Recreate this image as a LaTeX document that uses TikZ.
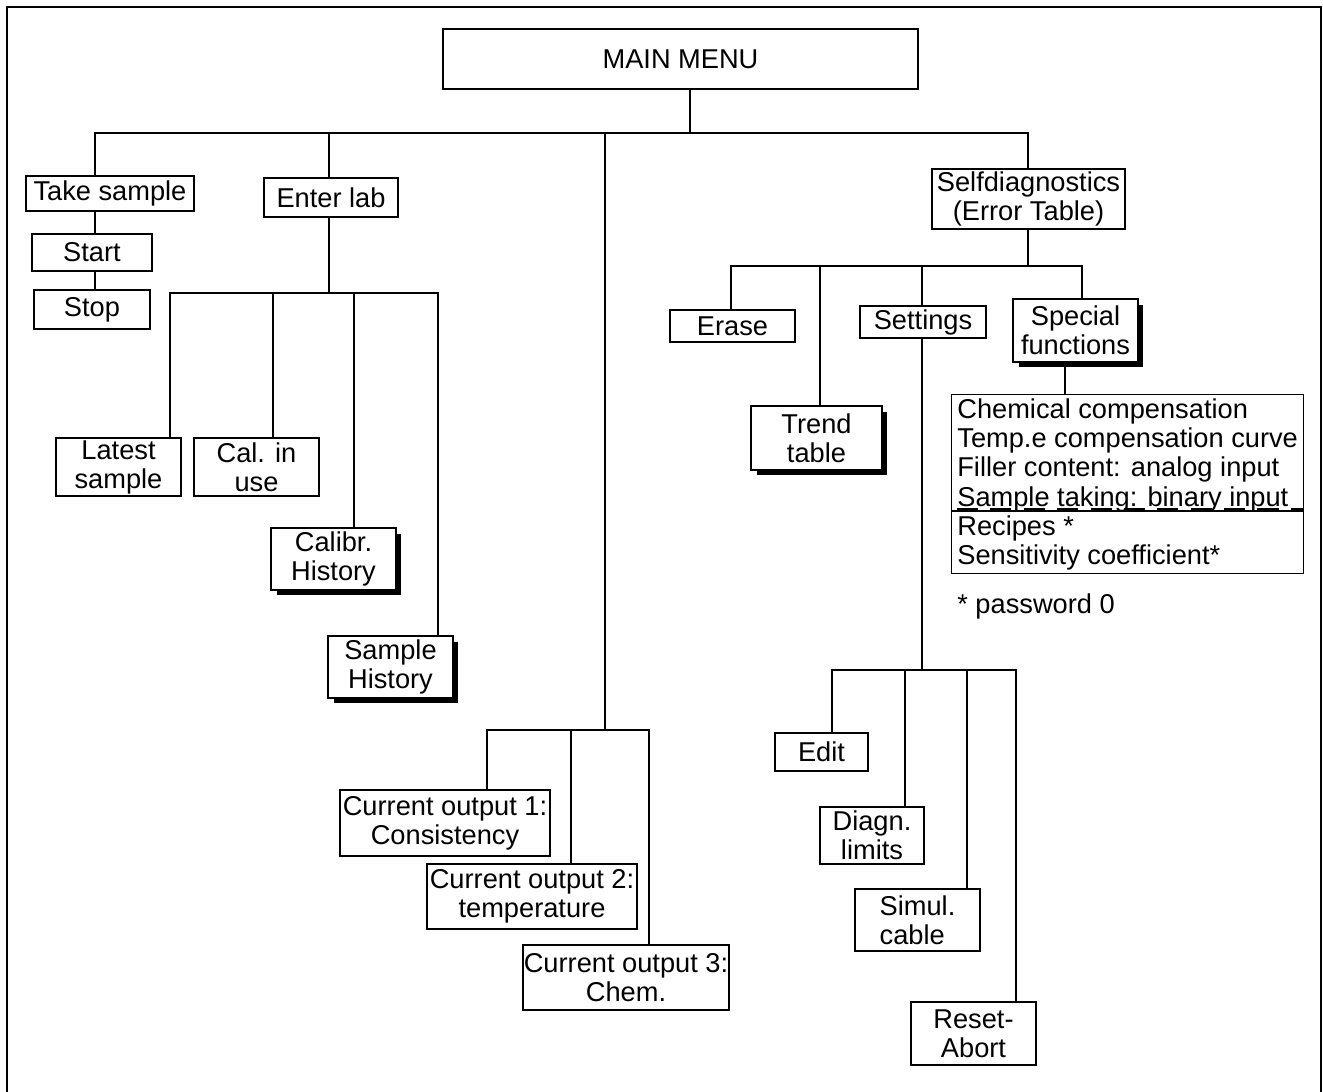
\documentclass[tikz,border=0pt]{standalone}
\usepackage{fontspec}
\setmainfont{Liberation Sans}
\usetikzlibrary{shadows}

\tikzset{
  box/.style={draw, line width=0.8pt, fill=white, inner sep=0pt, align=center,
    font=\fontsize{15.5}{16.5}\selectfont},
  shadowbox/.style={box, drop shadow={shadow xshift=0.11cm, shadow yshift=-0.11cm,
    fill=black, opacity=1}},
  trunk/.style={line width=1.3pt},
  branch/.style={line width=0.7pt}
}

\begin{document}
\begin{tikzpicture}[x=0.02cm, y=-0.02cm]
  \useasboundingbox (0,0) rectangle (1323,1092);
  % frame, open at the bottom
  \draw[line width=1.1pt] (7,1092) -- (7,7) -- (1321,7) -- (1321,1092);

  % menu boxes
  \node[box, line width=1.5pt, minimum width=9.5cm, minimum height=1.2cm] (main) at (680.5,59) {MAIN MENU};
  \node[box, minimum width=3.36cm, minimum height=0.7cm] (take) at (110,193.5) {Take sample};
  \node[box, minimum width=2.4cm, minimum height=0.74cm] (start) at (92,252.5) {Start};
  \node[box, minimum width=2.32cm, minimum height=0.78cm] (stop) at (92,309.5) {Stop};
  \node[box, minimum width=2.68cm, minimum height=0.78cm] (enter) at (331,197.5) {Enter lab};
  \node[box, minimum width=2.5cm, minimum height=1.16cm] (latest) at (118.5,467) {Latest\\sample};
  \node[box, minimum width=2.5cm, minimum height=1.16cm] (calinuse) at (256.5,467) {Cal. in\\use};
  \node[shadowbox, minimum width=2.5cm, minimum height=1.24cm] (calibr) at (333.5,559) {Calibr.\\History};
  \node[shadowbox, minimum width=2.5cm, minimum height=1.24cm] (samphist) at (390.5,667) {Sample\\History};
  \node[box, minimum width=4.2cm, minimum height=1.32cm] (out1) at (445,823) {Current output 1:\\Consistency};
  \node[box, minimum width=4.2cm, minimum height=1.3cm] (out2) at (532,896.5) {Current output 2:\\temperature};
  \node[box, minimum width=4.12cm, minimum height=1.3cm] (out3) at (626,977.5) {Current output 3:\\Chem.};
  \node[box, minimum width=3.86cm, minimum height=1.2cm] (selfdiag) at (1028.5,199) {Selfdiagnostics\\(Error Table)};
  \node[box, minimum width=2.5cm, minimum height=0.64cm] (erase) at (732.5,326) {Erase};
  \node[shadowbox, minimum width=2.62cm, minimum height=1.28cm] (trend) at (816.5,438) {Trend\\table};
  \node[box, minimum width=2.52cm, minimum height=0.64cm] (settings) at (923,322) {Settings};
  \node[shadowbox, minimum width=2.5cm, minimum height=1.26cm] (special) at (1075.5,330.5) {Special\\functions};
  \node[box, minimum width=1.86cm, minimum height=0.76cm] (edit) at (821.5,752) {Edit};
  \node[box, minimum width=2.08cm, minimum height=1.14cm] (diagn) at (872,835.5) {Diagn.\\limits};
  \node[box, align=left, minimum width=2.5cm, minimum height=1.24cm] (simul) at (917.5,920) {Simul.\\cable};
  \node[box, minimum width=2.5cm, minimum height=1.26cm] (reset) at (973.5,1033.5) {Reset-\\Abort};

  % special functions list
  \node[box, minimum width=7.04cm, minimum height=3.58cm, anchor=north west] (chem) at (951,394) {};
  \node[anchor=north west, align=left, inner sep=0pt, font=\fontsize{15.5}{16.6}\selectfont] (chemtext) at (957,398.5)
    {Chemical compensation\\Temp.e compensation curve\\Filler content: analog input\\Sample taking: binary input\\Recipes *\\Sensitivity coefficient*};
  \coordinate (ul) at (957,509);
  \coordinate (sep) at (951,511);
  \draw[branch, dash pattern=on 12pt off 7pt] (ul) -- (ul -| chem.east);
  \draw[branch] (sep) -- (sep -| chem.east);
  \node[anchor=base west, inner sep=0pt, font=\fontsize{15.5}{16.5}\selectfont] (pw) at (957,613) {* password 0};

  % junctions
  \coordinate (jtop) at (690,133);
  \coordinate (jtake) at (95,133);
  \coordinate (jenter) at (329,133);
  \coordinate (jmid) at (605,133);
  \coordinate (jself) at (1028,133);
  \coordinate (jlab) at (329,293);
  \coordinate (l1) at (170,293);
  \coordinate (l2) at (273,293);
  \coordinate (l3) at (354,293);
  \coordinate (l4) at (438,293);
  \coordinate (jout) at (605,730);
  \coordinate (o1) at (487,730);
  \coordinate (o2) at (571,730);
  \coordinate (o3) at (649,730);
  \coordinate (jdiag) at (1028,266);
  \coordinate (d1) at (731,266);
  \coordinate (d2) at (820,266);
  \coordinate (d3) at (922,266);
  \coordinate (d4) at (1082,266);
  \coordinate (jspec) at (1065,394);
  \coordinate (s0) at (922,670);
  \coordinate (s1) at (832,670);
  \coordinate (s2) at (905,670);
  \coordinate (s3) at (967,670);
  \coordinate (s4) at (1016,670);

  % main lines
  \draw[trunk] (jtop |- main.south) -- (jtop);
  \draw[trunk] (jtake |- take.north) -- (jtake) -- (jself) -- (jself |- selfdiag.north);
  \draw[trunk] (jtake |- take.south) -- (jtake |- start.north);
  \draw[trunk] (jtake |- start.south) -- (jtake |- stop.north);
  \draw[trunk] (jenter) -- (jenter |- enter.north);
  \draw[trunk] (jenter |- enter.south) -- (jlab);
  \draw[trunk] (jmid) -- (jout);
  \draw[trunk] (jself |- selfdiag.south) -- (jdiag);

  % enter lab
  \draw[branch] (l1 |- latest.north) -- (l1) -- (l4) -- (l4 |- samphist.north);
  \draw[branch] (l2) -- (l2 |- calinuse.north);
  \draw[branch] (l3) -- (l3 |- calibr.north);

  % current outputs
  \draw[branch] (o1 |- out1.north) -- (o1) -- (o3) -- (o3 |- out3.north);
  \draw[branch] (o2) -- (o2 |- out2.north);

  % selfdiagnostics
  \draw[branch] (d1 |- erase.north) -- (d1) -- (d4) -- (d4 |- special.north);
  \draw[branch] (d2) -- (d2 |- trend.north);
  \draw[branch] (d3) -- (d3 |- settings.north);
  \draw[branch] (jspec |- special.south) -- (jspec |- chem.north);

  % settings
  \draw[branch] (d3 |- settings.south) -- (s0);
  \draw[branch] (s1 |- edit.north) -- (s1) -- (s4) -- (s4 |- reset.north);
  \draw[branch] (s2) -- (s2 |- diagn.north);
  \draw[branch] (s3) -- (s3 |- simul.north);
\end{tikzpicture}
\end{document}
